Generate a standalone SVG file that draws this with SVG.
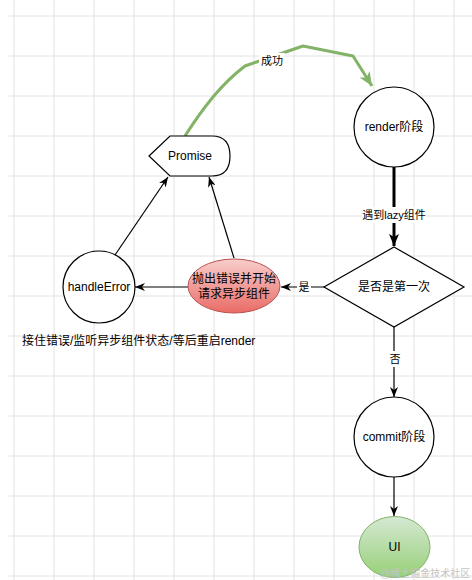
<svg xmlns="http://www.w3.org/2000/svg" width="472" height="580" viewBox="0 0 472 580">
<style>
text{font-family:"Liberation Sans","Noto Sans CJK SC",sans-serif;font-size:12px;fill:#000;text-anchor:middle;dominant-baseline:central}
.lbl{font-size:11px}
.node{fill:#fff;stroke:#000;stroke-width:1.2}
.edge{fill:none;stroke:#000;stroke-width:1.2}
.grid line{stroke:#e2e2e2;stroke-width:1}
</style>
<defs>
<marker id="arr" markerUnits="userSpaceOnUse" viewBox="0 0 10 8" refX="10" refY="4" markerWidth="10" markerHeight="8" orient="auto">
<path d="M0,0 L10,4 L0,8 L3,4 Z" fill="#000"/>
</marker>
<marker id="arrBig" markerUnits="userSpaceOnUse" viewBox="0 0 12 10" refX="12" refY="5" markerWidth="12" markerHeight="11" orient="auto">
<path d="M0,0 L12,5 L0,10 L3,5 Z" fill="#000"/>
</marker>
<marker id="arrGreen" markerUnits="userSpaceOnUse" viewBox="0 0 14 12" refX="14" refY="6" markerWidth="14" markerHeight="12" orient="auto">
<path d="M0,0 L14,6 L0,12 L4,6 Z" fill="#82b366"/>
</marker>
<linearGradient id="gRed" x1="0" y1="0" x2="0" y2="1">
<stop offset="0" stop-color="#f8cecc"/><stop offset="1" stop-color="#ea6b66"/>
</linearGradient>
<linearGradient id="gGreen" x1="0" y1="0" x2="0" y2="1">
<stop offset="0" stop-color="#d5e8d4"/><stop offset="1" stop-color="#97d077"/>
</linearGradient>
</defs>
<rect width="472" height="580" fill="#fff"/>
<g class="grid">
<line x1="14" y1="0" x2="14" y2="580"/><line x1="54" y1="0" x2="54" y2="580"/><line x1="94" y1="0" x2="94" y2="580"/><line x1="134" y1="0" x2="134" y2="580"/><line x1="174" y1="0" x2="174" y2="580"/><line x1="214" y1="0" x2="214" y2="580"/><line x1="254" y1="0" x2="254" y2="580"/><line x1="294" y1="0" x2="294" y2="580"/><line x1="334" y1="0" x2="334" y2="580"/><line x1="374" y1="0" x2="374" y2="580"/><line x1="414" y1="0" x2="414" y2="580"/><line x1="454" y1="0" x2="454" y2="580"/>
<line x1="8" y1="16" x2="472" y2="16"/><line x1="8" y1="56" x2="472" y2="56"/><line x1="8" y1="96" x2="472" y2="96"/><line x1="8" y1="136" x2="472" y2="136"/><line x1="8" y1="176" x2="472" y2="176"/><line x1="8" y1="216" x2="472" y2="216"/><line x1="8" y1="256" x2="472" y2="256"/><line x1="8" y1="296" x2="472" y2="296"/><line x1="8" y1="336" x2="472" y2="336"/><line x1="8" y1="376" x2="472" y2="376"/><line x1="8" y1="416" x2="472" y2="416"/><line x1="8" y1="456" x2="472" y2="456"/><line x1="8" y1="496" x2="472" y2="496"/><line x1="8" y1="536" x2="472" y2="536"/><line x1="8" y1="576" x2="472" y2="576"/>
</g>
<g id="connectors">
<path d="M185,136 Q199,114 213,97 Q228,79 245,66 L303,46 L353,56 L372,86" fill="none" stroke="#82b366" stroke-width="3" stroke-linejoin="round" marker-end="url(#arrGreen)"/>
<rect x="259" y="53" width="26" height="15" fill="#fff"/>
<text class="lbl" x="272" y="61">成功</text>
<line x1="394" y1="167" x2="394" y2="246" stroke="#000" stroke-width="3" marker-end="url(#arrBig)"/>
<rect x="362" y="207" width="64" height="16" fill="#fff"/>
<text class="lbl" x="394" y="215">遇到lazy组件</text>
<line class="edge" x1="115" y1="255" x2="168" y2="177" marker-end="url(#arr)"/>
<line class="edge" x1="234" y1="258" x2="209" y2="177" marker-end="url(#arr)"/>
<line class="edge" x1="325" y1="287" x2="281" y2="287" marker-end="url(#arr)"/>
<rect x="297" y="280" width="14" height="15" fill="#fff"/>
<text class="lbl" x="304" y="287">是</text>
<line class="edge" x1="188" y1="287" x2="135" y2="287" marker-end="url(#arr)"/>
<line class="edge" x1="394" y1="327" x2="394" y2="397" marker-end="url(#arr)"/>
<rect x="387" y="351" width="14" height="16" fill="#fff"/>
<text class="lbl" x="395" y="359">否</text>
<line class="edge" x1="394" y1="477" x2="394" y2="516" marker-end="url(#arr)"/>
</g>
<g id="promise">
<path class="node" d="M149,156 L170,136 L212,136 Q230,136 230,156 Q230,176 212,176 L170,176 Z"/>
<text x="190" y="156">Promise</text>
</g>
<g id="render">
<circle class="node" cx="394" cy="127" r="40"/>
<text x="394" y="127">render阶段</text>
</g>
<g id="decision">
<path class="node" d="M394,247 L464,287 L394,327 L324,287 Z"/>
<text x="394" y="287">是否是第一次</text>
</g>
<g id="throw">
<ellipse cx="234" cy="286" rx="46" ry="27" fill="url(#gRed)" stroke="#b85450" stroke-width="1"/>
<text x="234" y="279">抛出错误并开始</text>
<text x="234" y="294">请求异步组件</text>
</g>
<g id="handleError">
<circle class="node" cx="99" cy="287" r="36"/>
<text x="99" y="287">handleError</text>
</g>
<g id="note">
<text x="22" y="341" style="text-anchor:start">接住错误/监听异步组件状态/等后重启render</text>
</g>
<g id="commit">
<circle class="node" cx="394" cy="437" r="40"/>
<text x="394" y="437">commit阶段</text>
</g>
<g id="ui">
<ellipse cx="394.5" cy="547" rx="35.5" ry="30.5" fill="url(#gGreen)" stroke="#82b366" stroke-width="1"/>
<text x="394.5" y="547">UI</text>
</g>
<text x="380" y="573" style="text-anchor:start;fill:#c4c4c4;font-size:10px">@稀土掘金技术社区</text>
</svg>
